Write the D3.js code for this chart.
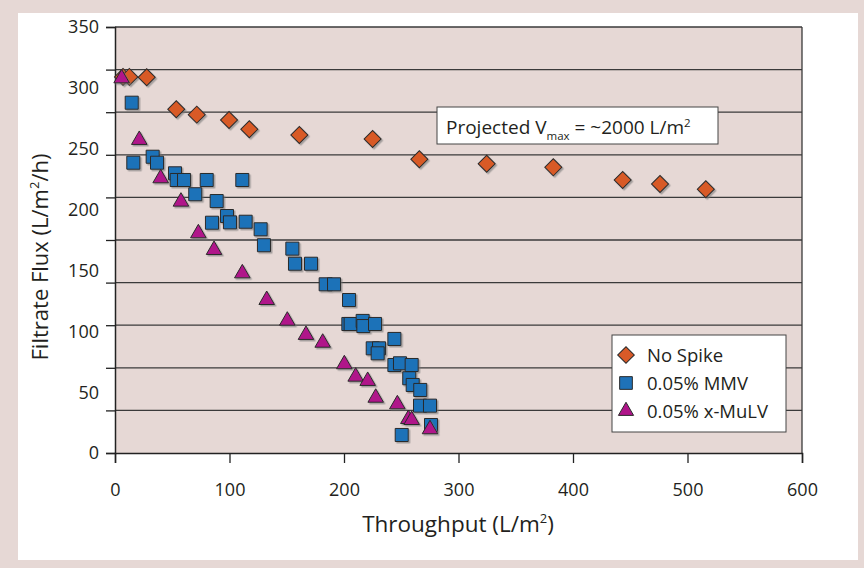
<!DOCTYPE html>
<html>
<head>
<meta charset="utf-8">
<script src="https://cdn.jsdelivr.net/npm/d3@7"></script>
<style>
  body { margin: 0; background: #e6d8d5; }
  svg { display: block; font-family: "Open Sans", "Noto Sans", sans-serif; }
</style>
</head>
<body>
<svg id="chart"></svg>
<script>
// Data
const series_names = ["No Spike", "0.05% MMV", "0.05% x-MuLV"];

const no_spike = [
  [7, 309], [12.5, 309], [27.7, 308.7], [53.5, 282.4], [71.4, 278], [99.6, 273.6],
  [117.3, 266], [161, 261.3], [225, 258], [265.8, 241.3], [324.6, 237.7],
  [382.8, 234.7], [443.4, 224.3], [476, 221], [516, 216.7]
];

const mmv = [
  [14.6, 287.8], [16, 238.5], [32.9, 243.4], [36.7, 238.5], [52.4, 229.8], [53.9, 224.3],
  [60.3, 224.3], [80.1, 224.3], [111.2, 224.3], [70.1, 212.6], [88.8, 207], [97.8, 194.7],
  [100.4, 189.5], [84.7, 189.2], [114.1, 190], [127.2, 183.8], [130.1, 170.7], [154.9, 167.9],
  [157.2, 155.5], [171.2, 155.5], [184, 138.6], [191.3, 138.6], [204.4, 125.7], [203.8, 106],
  [205.8, 106], [216.3, 108.5], [216.9, 104.3], [227.1, 106], [244, 93.7], [225.1, 86],
  [230.6, 86], [229.4, 81.9], [244, 72.3], [248.9, 73.7], [259.1, 72.3], [257, 61.4],
  [260, 55.9], [266.6, 51.8], [266.4, 38.9], [275.1, 38.9], [276, 23], [250.4, 14.8]
];

const xmulv = [
  [5.8, 307.8], [21.2, 257.2], [39.9, 225.7], [57.6, 206.5], [72.8, 180.5], [86.5, 166.8],
  [111.2, 147.6], [132.5, 125.7], [150.5, 108.7], [166.8, 97], [181.4, 90.6], [200.3, 72.9],
  [210.2, 62.7], [220.7, 59.2], [227.7, 45.4], [246.6, 40], [256.2, 27.9], [259.1, 27.1],
  [275.1, 19.5]
];

const x_ticks = [0, 100, 200, 300, 400, 500, 600];
const y_labels = [0, 50, 100, 150, 200, 250, 300, 350];
const y_grid = [0, 35, 70, 105, 140, 175, 210, 245, 280, 315, 350];

const width = 864, height = 568;
const plot = { left: 115, right: 802, top: 27, bottom: 453 };

const svg = d3.select("#chart")
    .attr("width", width)
    .attr("height", height);

// shadow under markers
const defs = svg.append("defs");
defs.append("filter")
    .attr("id", "shadow")
    .attr("x", "-50%").attr("y", "-50%")
    .attr("width", "200%").attr("height", "200%")
  .append("feDropShadow")
    .attr("dx", 1.5).attr("dy", 1.5)
    .attr("stdDeviation", 0.6)
    .attr("flood-color", "#777")
    .attr("flood-opacity", 0.6);

// white panel
svg.append("rect")
    .attr("x", 18).attr("y", 13)
    .attr("width", 840).attr("height", 547)
    .attr("fill", "white");

const xScale = d3.scaleLinear().domain([0, 600]).range([plot.left, plot.right]);
const yScale = d3.scaleLinear().domain([0, 350]).range([plot.bottom, plot.top]);

// plot background
svg.append("rect")
    .attr("x", plot.left).attr("y", plot.top)
    .attr("width", plot.right - plot.left)
    .attr("height", plot.bottom - plot.top)
    .attr("fill", "#e6d8d5");

// gridlines
svg.append("g")
    .selectAll("line")
    .data(y_grid.slice(1))
    .enter().append("line")
    .attr("x1", plot.left).attr("x2", plot.right)
    .attr("y1", d => yScale(d)).attr("y2", d => yScale(d))
    .attr("stroke", "#3a3a3a")
    .attr("stroke-width", 1.3);

// right border
svg.append("line")
    .attr("x1", plot.right).attr("x2", plot.right)
    .attr("y1", plot.top).attr("y2", plot.bottom)
    .attr("stroke", "#3a3a3a")
    .attr("stroke-width", 1.3);

// y axis (tick marks only)
const yAxis = svg.append("g")
    .attr("transform", `translate(${plot.left}, 0)`)
    .call(d3.axisLeft(yScale).tickValues(y_grid).tickSize(9).tickFormat(""));
yAxis.select(".domain").attr("stroke", "#222").attr("stroke-width", 1.5);
yAxis.selectAll(".tick line").attr("stroke", "#222").attr("stroke-width", 1.3);

// y labels
svg.append("g")
    .selectAll("text")
    .data(y_labels)
    .enter().append("text")
    .attr("x", 99)
    .attr("y", d => yScale(d))
    .attr("dy", "0.36em")
    .attr("text-anchor", "end")
    .style("font-size", "18px")
    .attr("fill", "#231f20")
    .text(d => d);

// x axis
const xAxis = svg.append("g")
    .attr("transform", `translate(0, ${plot.bottom})`)
    .call(d3.axisBottom(xScale).tickValues(x_ticks).tickSize(10).tickPadding(20));
xAxis.select(".domain").attr("stroke", "#222").attr("stroke-width", 1.5);
xAxis.selectAll(".tick line").attr("stroke", "#222").attr("stroke-width", 1.3);
xAxis.selectAll("text")
    .style("font-size", "18px")
    .style("font-family", "'Open Sans', sans-serif")
    .attr("fill", "#231f20");

// axis titles
const xTitle = svg.append("text")
    .attr("x", 458)
    .attr("y", 532)
    .attr("text-anchor", "middle")
    .style("font-size", "22.5px")
    .attr("fill", "#231f20");
xTitle.append("tspan").text("Throughput (L/m");
xTitle.append("tspan").attr("dy", -9).style("font-size", "13px").text("2");
xTitle.append("tspan").attr("dy", 9).text(")");

const yTitle = svg.append("text")
    .attr("transform", "translate(48, 257) rotate(-90)")
    .attr("text-anchor", "middle")
    .style("font-size", "22px")
    .attr("fill", "#231f20");
yTitle.append("tspan").text("Filtrate Flux (L/m");
yTitle.append("tspan").attr("dy", -9).style("font-size", "13px").text("2");
yTitle.append("tspan").attr("dy", 9).text("/h)");

// markers
const colorScale = d3.scaleOrdinal()
    .domain(series_names)
    .range(["#d85a28", "#1f72b8", "#b0148a"]);

const shapes = {
  "No Spike": { type: d3.symbolSquare, size: 145, rotate: 45 },
  "0.05% MMV": { type: d3.symbolSquare, size: 170, rotate: 0 },
  "0.05% x-MuLV": { type: d3.symbolTriangle, size: 105, rotate: 0 }
};

function drawSeries(data, name) {
  const s = shapes[name];
  svg.append("g")
      .attr("filter", "url(#shadow)")
      .selectAll("path")
      .data(data)
      .enter().append("path")
      .attr("d", d3.symbol().type(s.type).size(s.size))
      .attr("transform", d => `translate(${xScale(d[0])}, ${yScale(d[1])}) rotate(${s.rotate})`)
      .attr("fill", colorScale(name))
      .attr("stroke", "#2a2a2a")
      .attr("stroke-width", 1);
}

drawSeries(no_spike, "No Spike");
drawSeries(mmv, "0.05% MMV");
drawSeries(xmulv, "0.05% x-MuLV");

// annotation box
svg.append("rect")
    .attr("x", 437).attr("y", 107)
    .attr("width", 281).attr("height", 37)
    .attr("fill", "white")
    .attr("stroke", "#444")
    .attr("stroke-width", 1);

const note = svg.append("text")
    .attr("x", 446)
    .attr("y", 134)
    .style("font-size", "19px")
    .attr("fill", "#231f20");
note.append("tspan").text("Projected V");
note.append("tspan").attr("dy", 6).style("font-size", "11.5px").text("max");
note.append("tspan").attr("dy", -6).text(" = ~2000 L/m");
note.append("tspan").attr("dy", -7).style("font-size", "11.5px").text("2");

// legend
svg.append("rect")
    .attr("x", 612).attr("y", 335)
    .attr("width", 174).attr("height", 97)
    .attr("fill", "white")
    .attr("stroke", "#444")
    .attr("stroke-width", 1);

const legend = svg.selectAll(".legend")
    .data(series_names)
    .enter().append("g")
    .attr("class", "legend")
    .attr("transform", (d, i) => `translate(626, ${355 + i * 28})`);

legend.append("path")
    .attr("d", d => d3.symbol().type(shapes[d].type).size(shapes[d].size * 0.95)())
    .attr("transform", d => `rotate(${shapes[d].rotate})`)
    .attr("fill", d => colorScale(d))
    .attr("stroke", "#2a2a2a")
    .attr("stroke-width", 1);

legend.append("text")
    .attr("x", 21)
    .attr("dy", "0.36em")
    .style("font-size", "18.5px")
    .attr("fill", "#231f20")
    .text(d => d);
</script>
</body>
</html>
